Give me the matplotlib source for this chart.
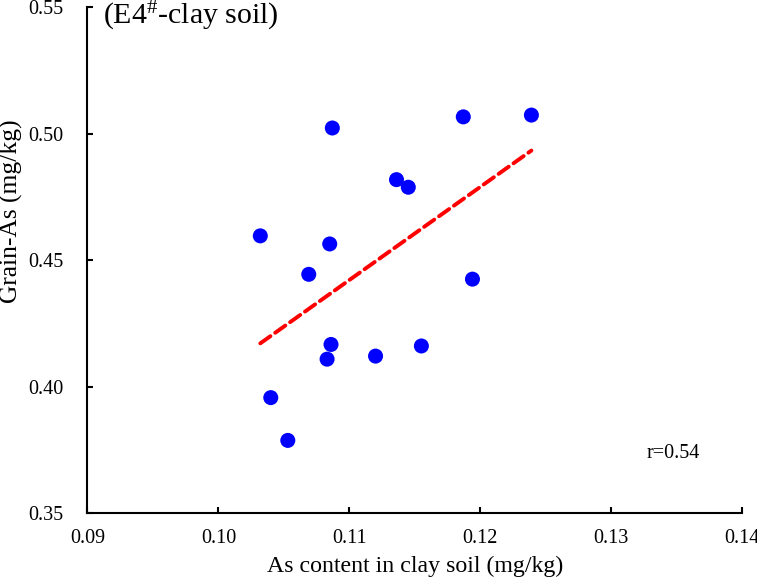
import numpy as np
import matplotlib
matplotlib.use("Agg")
import matplotlib.pyplot as plt

plt.rcParams['font.family'] = ['Liberation Serif', 'DejaVu Serif']
plt.rcParams['mathtext.fontset'] = 'custom'
plt.rcParams['mathtext.rm'] = 'Liberation Serif'
plt.rcParams['mathtext.it'] = 'Liberation Serif:italic'

# Data
clay_as = [0.1032, 0.1040, 0.1053, 0.1069, 0.1083, 0.1085, 0.1086, 0.1087,
           0.1120, 0.1136, 0.1145, 0.1155, 0.1187, 0.1194, 0.1239]
grain_as = [0.4596, 0.3957, 0.3788, 0.4444, 0.4109, 0.4564, 0.4167, 0.5022,
            0.4121, 0.4818, 0.4788, 0.4161, 0.5066, 0.4425, 0.5073]
x_ticks = [0.09, 0.10, 0.11, 0.12, 0.13, 0.14]
y_ticks = [0.35, 0.40, 0.45, 0.50, 0.55]
r_text = "r=0.54"
title_text = r"(E4$^{\mathrm{\#}}$-clay soil)"

fig = plt.figure(figsize=(7.57, 5.82), dpi=100)
ax = fig.add_axes([0.1155, 0.118, 0.865, 0.870])

ax.scatter(clay_as, grain_as, s=117, color='#0000ff', edgecolors='none', zorder=3)

x = np.array(clay_as)
y = np.array(grain_as)
slope, intercept = np.polyfit(x, y, 1)
xl = np.array([x.min(), x.max()])
ax.plot(xl, slope * xl + intercept, color='#ff0000', lw=2.8,
        linestyle=(0, (3.2, 1.5)), dash_capstyle='round', zorder=2)

ax.set_xlim(0.09, 0.14)
ax.set_ylim(0.35, 0.55)
ax.set_xticks(x_ticks)
ax.set_yticks(y_ticks)
ax.set_xticklabels([f"{v:.2f}" for v in x_ticks])
ax.set_yticklabels([f"{v:.2f}" for v in y_ticks])

for s in ['top', 'right']:
    ax.spines[s].set_visible(False)
for s in ['left', 'bottom']:
    ax.spines[s].set_linewidth(1.5)
    ax.spines[s].set_color('black')

ax.tick_params(axis='both', direction='in', length=4, width=1.5, labelsize=14.5)
ax.tick_params(axis='y', pad=17)
ax.tick_params(axis='x', pad=11)

ax.set_xlabel("As content in clay soil (mg/kg)", fontsize=17.2, labelpad=6)
ax.set_ylabel("Grain-As (mg/kg)", fontsize=18.4)
ax.yaxis.set_label_coords(-0.0985, 0.5964)

fig.text(0.136, 0.9725, title_text, fontsize=21.5, ha='left', va='center')
ax.text(0.8545, 0.119, r_text, transform=ax.transAxes, fontsize=14.5,
        ha='left', va='center')

fig.savefig("out.png", dpi=100)
